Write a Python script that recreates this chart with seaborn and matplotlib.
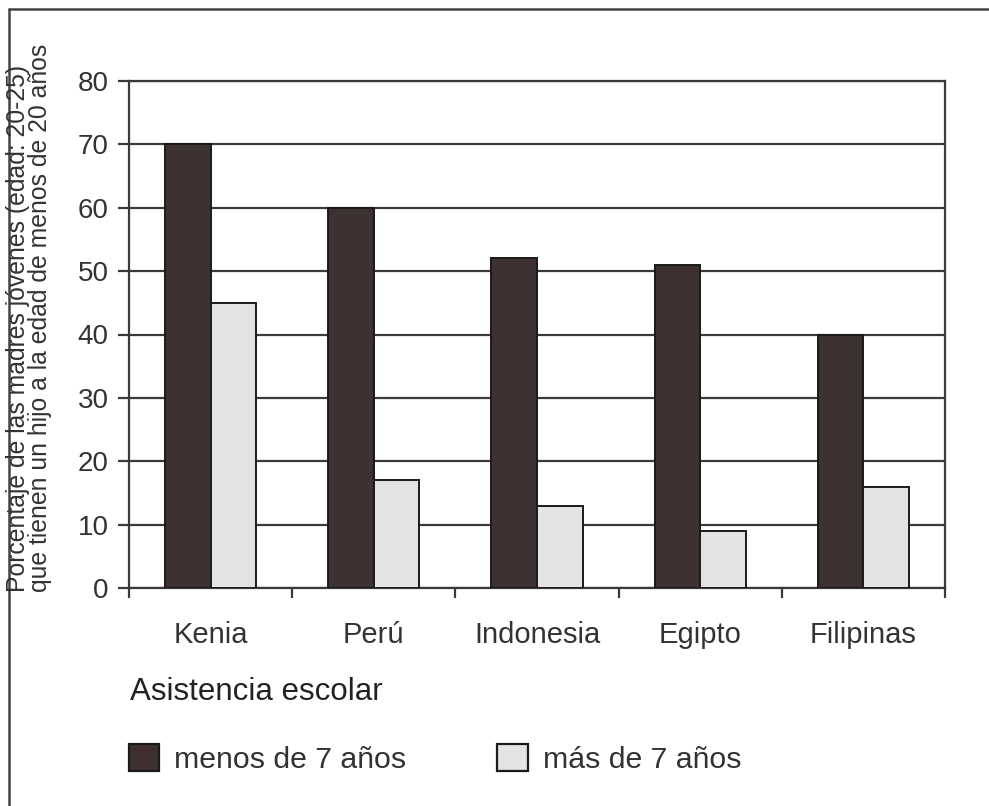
import pandas as pd
import matplotlib.pyplot as plt
import seaborn as sns
from matplotlib.patches import Patch
from matplotlib.lines import Line2D

paises = ["Kenia", "Perú", "Indonesia", "Egipto", "Filipinas"]
menos_7 = [70, 60, 52, 51, 40]
mas_7 = [45, 17, 13, 9, 16]
grupos = ["menos de 7 años", "más de 7 años"]
colores = {"menos de 7 años": "#3f302f", "más de 7 años": "#e3e3e3"}
y_ticks = [0, 10, 20, 30, 40, 50, 60, 70, 80]

df = pd.DataFrame({
    "pais": paises * 2,
    "valor": menos_7 + mas_7,
    "grupo": [grupos[0]] * len(paises) + [grupos[1]] * len(paises),
})

sns.set_style("white")
plt.rcParams["font.family"] = ["Liberation Sans", "DejaVu Sans"]

W, H = 989, 806
fig = plt.figure(figsize=(W / 100, H / 100), dpi=100)
ax = fig.add_axes([129 / W, 1 - 588 / H, (945 - 129) / W, (588 - 81) / H])

sns.barplot(data=df, x="pais", y="valor", hue="grupo", hue_order=grupos,
            palette=colores, width=0.56, gap=0, edgecolor="#1a1a1a",
            linewidth=1.4, legend=False, ax=ax, zorder=3)

ax.set_ylim(0, 80)
ax.set_xlim(-0.5, len(paises) - 0.5)
ax.set_yticks(y_ticks)
ax.set_yticklabels([str(v) for v in y_ticks], fontsize=20, color="#333333")
ax.yaxis.grid(True, color="#3a3a3a", linewidth=1.6, zorder=0)
ax.set_axisbelow(True)
ax.tick_params(axis="y", length=8, width=1.6, color="#3a3a3a", pad=6.5, left=True)

ax.set_xticks(range(len(paises)))
ax.set_xticklabels(paises, fontsize=21, color="#333333")
ax.tick_params(axis="x", which="major", length=0, pad=24)
ax.set_xticks([i + 0.5 for i in range(-1, len(paises))], minor=True)
ax.tick_params(axis="x", which="minor", length=7, width=1.6, color="#3a3a3a",
               direction="out", bottom=True)
ax.set_xlabel("")
ax.set_ylabel("")
for s in ax.spines.values():
    s.set_color("#3a3a3a")
    s.set_linewidth(1.6)

fig.text(29 / W, 1 - 592 / H,
         "Porcentaje de las madres jóvenes (edad: 20-25)\nque tienen un hijo a la edad de menos de 20 años",
         rotation=90, ha="center", va="bottom", multialignment="left",
         fontsize=17.8, color="#333333", linespacing=0.92)

fig.text(130 / W, 1 - 692 / H, "Asistencia escolar", fontsize=22.5,
         ha="left", va="center", color="#222222")

handles = [Patch(facecolor=colores[g], edgecolor="#1a1a1a", linewidth=1.6) for g in grupos]
fig.legend(handles, grupos, loc="center left", bbox_to_anchor=(129 / W, 1 - 759 / H),
           ncol=2, frameon=False, fontsize=21.8, handlelength=1.0, handleheight=1.0,
           handletextpad=0.5, columnspacing=3.0, labelcolor="#333333",
           borderpad=0, borderaxespad=0)

# marco de la figura (izquierda y arriba)
fig.add_artist(Line2D([9 / W, 9 / W], [0, 1 - 9 / H], transform=fig.transFigure,
                      color="#444444", linewidth=1.8))
fig.add_artist(Line2D([9 / W, 1], [1 - 9 / H, 1 - 9 / H], transform=fig.transFigure,
                      color="#444444", linewidth=1.8))

fig.savefig("out.png", dpi=100)
